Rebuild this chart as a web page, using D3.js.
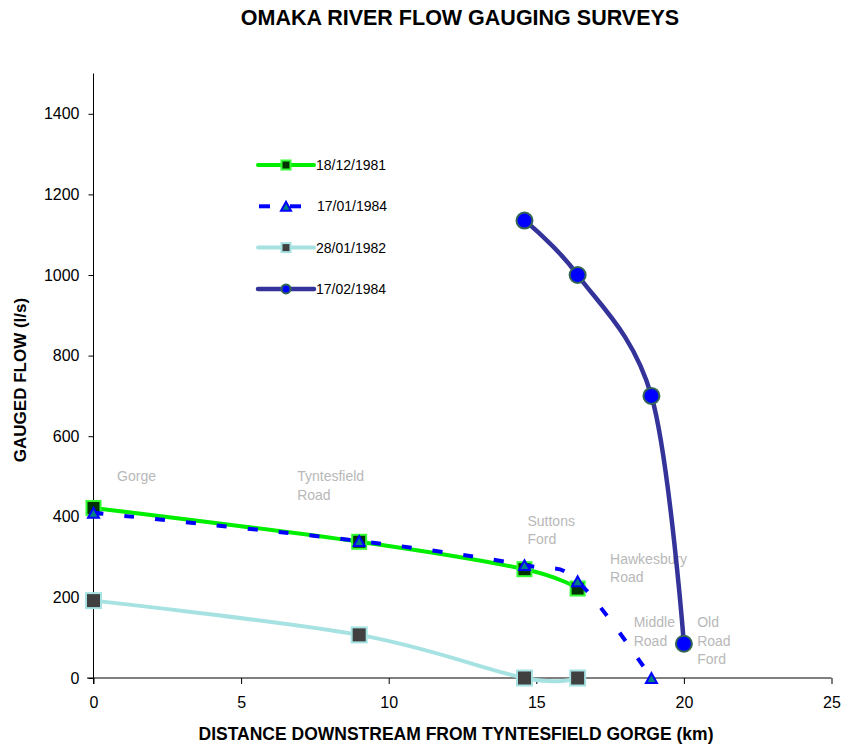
<!DOCTYPE html>
<html>
<head>
<meta charset="utf-8">
<script src="https://cdn.jsdelivr.net/npm/d3@7"></script>
<style>
  body { margin: 0; background: #fff; }
  svg { font-family: "Liberation Sans", Arial, sans-serif; }
</style>
</head>
<body>
<svg id="chart" width="843" height="747"></svg>
<script>
// Survey series (distance km, flow l/s)
const dec1981 = [[0, 422], [9, 338], [14.6, 270], [16.4, 222]];
const jan1984 = [[0, 410], [9, 340], [14.6, 280], [16.4, 240], [18.9, 0]];
const jan1982 = [[0, 192], [9, 107], [14.6, 0], [16.4, 0]];
const feb1984 = [[14.6, 1135], [16.4, 1000], [18.9, 700], [20, 85]];

const xTicks = [0, 5, 10, 15, 20, 25];
const yTicks = [0, 200, 400, 600, 800, 1000, 1200, 1400];

// Site labels: [x km, y flow, lines]
const sites = [
  [0.8, 488, ['Gorge']],
  [6.9, 488, ['Tyntesfield', 'Road']],
  [14.7, 378, ['Suttons', 'Ford']],
  [17.5, 283, ['Hawkesbury', 'Road']],
  [18.3, 126, ['Middle', 'Road']],
  [20.45, 126, ['Old', 'Road', 'Ford']]
];

const series = [
  { name: '18/12/1981', data: dec1981, line: '#00ee00', width: 4, dash: null,
    marker: 'square', size: 14, fill: '#003300', stroke: '#33ff33', lsize: 9 },
  { name: '17/01/1984', data: jan1984, line: '#0000ff', width: 4, dash: '10,21',
    marker: 'triangle', size: 11, fill: '#008080', stroke: '#0000ff', lsize: 10 },
  { name: '28/01/1982', data: jan1982, line: '#a6e2e2', width: 4, dash: null,
    marker: 'square', size: 15, fill: '#404040', stroke: '#a6e2e2', lsize: 9 },
  { name: '17/02/1984', data: feb1984, line: '#333399', width: 4.5, dash: null,
    marker: 'circle', size: 16, fill: '#0000ff', stroke: '#336655', lsize: 9 }
];

const svg = d3.select('#chart');
const x = d3.scaleLinear().domain([0, 25]).range([93.5, 831.5]);
const y = d3.scaleLinear().domain([0, 1500]).range([678, 73.5]);

// Title
svg.append('text')
  .attr('x', 460).attr('y', 25)
  .attr('text-anchor', 'middle')
  .attr('font-size', '21.5px').attr('font-weight', 'bold')
  .text('OMAKA RIVER FLOW GAUGING SURVEYS');

// Axes
const xAxis = svg.append('g')
  .attr('transform', `translate(0,${y(0)})`)
  .call(d3.axisBottom(x).tickValues(xTicks).tickFormat(d3.format('d'))
    .tickSize(6).tickSizeOuter(0).tickPadding(13));
const yAxis = svg.append('g')
  .attr('transform', `translate(${x(0)},0)`)
  .call(d3.axisLeft(y).tickValues(yTicks).tickFormat(d3.format('d'))
    .tickSize(5).tickSizeOuter(0).tickPadding(9));

[xAxis, yAxis].forEach(a => {
  a.selectAll('text').attr('font-size', '16px').attr('fill', '#000')
    .attr('font-family', '"Liberation Sans", Arial, sans-serif');
  a.selectAll('line, path').attr('stroke', '#000');
});
xAxis.select('.domain').attr('d', `M${87},0H${x(25)}`);
yAxis.select('.domain').attr('d', `M0,${y(1500)}V${y(0) + 6}`);

// Axis titles
svg.append('text')
  .attr('x', 456).attr('y', 740)
  .attr('text-anchor', 'middle')
  .attr('font-size', '17.5px').attr('font-weight', 'bold')
  .text('DISTANCE DOWNSTREAM FROM TYNTESFIELD GORGE (km)');
svg.append('text')
  .attr('transform', `translate(26,${380}) rotate(-90)`)
  .attr('text-anchor', 'middle')
  .attr('font-size', '17px').attr('font-weight', 'bold')
  .text('GAUGED FLOW (l/s)');

// Site labels
const siteG = svg.append('g').attr('fill', '#b8b8b8').attr('font-size', '14px');
sites.forEach(([sx, sy, lines]) => {
  const t = siteG.append('text').attr('x', x(sx)).attr('y', y(sy));
  lines.forEach((ln, i) => t.append('tspan').attr('x', x(sx)).attr('dy', i ? 18.5 : 0).text(ln));
});

function drawMarker(g, type, cx, cy, size, fill, stroke) {
  if (type === 'square') {
    g.append('rect')
      .attr('x', cx - size / 2).attr('y', cy - size / 2)
      .attr('width', size).attr('height', size)
      .attr('fill', fill).attr('stroke', stroke).attr('stroke-width', 2);
  } else if (type === 'triangle') {
    const h = size * 0.9;
    g.append('path')
      .attr('d', `M${cx},${cy - h / 2}L${cx + size / 2},${cy + h / 2}L${cx - size / 2},${cy + h / 2}Z`)
      .attr('fill', fill).attr('stroke', stroke).attr('stroke-width', 2);
  } else {
    g.append('circle')
      .attr('cx', cx).attr('cy', cy).attr('r', size / 2)
      .attr('fill', fill).attr('stroke', stroke).attr('stroke-width', 2);
  }
}

const line = d3.line()
  .x(d => x(d[0])).y(d => y(d[1]))
  .curve(d3.curveCatmullRom.alpha(0));

series.forEach(s => {
  const g = svg.append('g');
  g.append('path')
    .attr('d', line(s.data))
    .attr('fill', 'none')
    .attr('stroke', s.line)
    .attr('stroke-width', s.width)
    .attr('stroke-dasharray', s.dash);
  s.data.forEach(d => drawMarker(g, s.marker, x(d[0]), y(d[1]), s.size, s.fill, s.stroke));
});

// Legend
const legend = svg.append('g').attr('font-size', '14px');
series.forEach((s, i) => {
  const ly = 165 + i * 41.3;
  if (s.dash) {
    legend.append('line').attr('x1', 259).attr('x2', 270).attr('y1', ly).attr('y2', ly)
      .attr('stroke', s.line).attr('stroke-width', s.width);
    legend.append('line').attr('x1', 290).attr('x2', 301).attr('y1', ly).attr('y2', ly)
      .attr('stroke', s.line).attr('stroke-width', s.width);
  } else {
    legend.append('line').attr('x1', 258).attr('x2', 314).attr('y1', ly).attr('y2', ly)
      .attr('stroke', s.line).attr('stroke-width', s.width).attr('stroke-linecap', 'round');
  }
  drawMarker(legend, s.marker, 286, ly, s.lsize, s.fill, s.stroke);
  legend.append('text').attr('x', s.dash ? 317 : 316).attr('y', ly + 5).text(s.name);
});
</script>
</body>
</html>
